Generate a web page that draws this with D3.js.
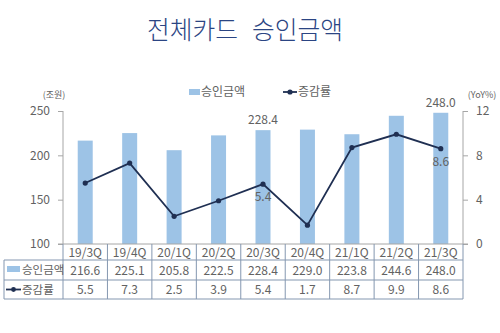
<!DOCTYPE html>
<html><head><meta charset="utf-8">
<script src="https://cdn.jsdelivr.net/npm/d3@7"></script>
<style>body{margin:0;background:#fff;}svg{display:block;font-family:"Noto Sans CJK KR","Noto Sans",sans-serif;}</style>
</head><body>
<script>
const categories = ["19/3Q","19/4Q","20/1Q","20/2Q","20/3Q","20/4Q","21/1Q","21/2Q","21/3Q"];
const amounts = [216.6,225.1,205.8,222.5,228.4,229.0,223.8,244.6,248.0];
const growth = [5.5,7.3,2.5,3.9,5.4,1.7,8.7,9.9,8.6];
const leftTicks = [100,150,200,250];
const rightTicks = [0,4,8,12];
const barLabelIdx = [4,8];
const lineLabelIdx = [4,8];
const titleWords = ["전체카드","승인금액"];

const W=500,H=333;
const svg=d3.select("body").append("svg").attr("width",W).attr("height",H);
const L=63,R=463,T=111,B=244;
const barColor="#9dc3e6", lineColor="#1f2f52", txt="#626262", grid="#8497b0";

const x=d3.scaleBand().domain(categories).range([L,R]).paddingInner(0).paddingOuter(0);
const yL=d3.scaleLinear().domain([100,250]).range([B,T]);
const yR=d3.scaleLinear().domain([0,12]).range([B,T]);

svg.append("text").attr("x",147).attr("y",39).attr("font-size",25).attr("font-weight",300)
  .attr("textLength",91).attr("lengthAdjust","spacingAndGlyphs").attr("fill","#2b4583").text(titleWords[0]);
svg.append("text").attr("x",252).attr("y",39).attr("font-size",25).attr("font-weight",300)
  .attr("textLength",91).attr("lengthAdjust","spacingAndGlyphs").attr("fill","#2b4583").text(titleWords[1]);

// bars
const bw=15;
svg.selectAll("rect.bar").data(amounts).join("rect")
  .attr("x",(d,i)=>x(categories[i])+x.bandwidth()/2-bw/2)
  .attr("y",d=>yL(d)).attr("width",bw).attr("height",d=>B-yL(d)).attr("fill",barColor);

// axes
const axL=d3.axisLeft(yL).tickValues(leftTicks).tickSize(5).tickPadding(8);
const gL=svg.append("g").attr("transform",`translate(${L},0)`).call(axL);
const axR=d3.axisRight(yR).tickValues(rightTicks).tickSize(5).tickPadding(8);
const gR=svg.append("g").attr("transform",`translate(${R},0)`).call(axR);
[gL,gR].forEach(g=>{
  g.select(".domain").remove();
  g.selectAll(".tick line").attr("stroke","#a6a6a6");
  g.selectAll(".tick text").attr("fill",txt).attr("font-size",12).attr("font-family","'Noto Sans CJK KR',sans-serif");
  g.append("line").attr("x1",0).attr("x2",0).attr("y1",T).attr("y2",B).attr("stroke","#a6a6a6");
});
svg.append("line").attr("x1",L-5).attr("x2",R+5).attr("y1",B).attr("y2",B).attr("stroke","#a6a6a6");

// line
const line=d3.line().x((d,i)=>x(categories[i])+x.bandwidth()/2).y(d=>yR(d));
svg.append("path").datum(growth).attr("d",line).attr("fill","none").attr("stroke",lineColor).attr("stroke-width",1.8);
svg.selectAll("circle.pt").data(growth).join("circle")
  .attr("cx",(d,i)=>x(categories[i])+x.bandwidth()/2).attr("cy",d=>yR(d)).attr("r",2.6).attr("fill",lineColor);

// labels
barLabelIdx.forEach(i=>{
  svg.append("text").attr("x",x(categories[i])+x.bandwidth()/2).attr("y",yL(amounts[i])-6)
    .attr("text-anchor","middle").attr("font-size",12).attr("fill",txt).text(amounts[i].toFixed(1));
});
lineLabelIdx.forEach(i=>{
  svg.append("text").attr("x",x(categories[i])+x.bandwidth()/2).attr("y",yR(growth[i])+17)
    .attr("text-anchor","middle").attr("font-size",12).attr("fill",txt).text(growth[i].toFixed(1));
});

// units
svg.append("text").attr("x",54).attr("y",98).attr("text-anchor","middle").attr("font-size",9).attr("fill",txt).text("(조원)");
svg.append("text").attr("x",482).attr("y",98).attr("text-anchor","middle").attr("font-size",9).attr("fill",txt).text("(YoY%)");

// legend
svg.append("rect").attr("x",189).attr("y",89).attr("width",11).attr("height",6).attr("fill",barColor);
svg.append("text").attr("x",201).attr("y",96).attr("font-size",12).attr("fill",txt).text("승인금액");
svg.append("line").attr("x1",283).attr("x2",297).attr("y1",92).attr("y2",92).attr("stroke",lineColor).attr("stroke-width",1.8);
svg.append("circle").attr("cx",290).attr("cy",92).attr("r",2.6).attr("fill",lineColor);
svg.append("text").attr("x",298).attr("y",96).attr("font-size",12).attr("fill",txt).text("증감률");

// table
const tL=4, r0=B, r1=260, r2=280, r3=299;
const tg=svg.append("g").attr("stroke",grid).attr("stroke-width",1);
[r1,r2,r3].forEach(ry=>tg.append("line").attr("x1",tL).attr("x2",R).attr("y1",ry).attr("y2",ry));
tg.append("line").attr("x1",tL).attr("x2",tL).attr("y1",r1).attr("y2",r3);
const bounds=categories.map(c=>x(c)).concat([R]);
bounds.forEach(bx=>tg.append("line").attr("x1",bx).attr("x2",bx).attr("y1",r0).attr("y2",r3));

categories.forEach((c,i)=>{
  const cx=x(c)+x.bandwidth()/2;
  svg.append("text").attr("x",cx).attr("y",(r0+r1)/2+4.5).attr("text-anchor","middle").attr("font-size",12).attr("fill",txt).text(c);
  svg.append("text").attr("x",cx).attr("y",(r1+r2)/2+4.5).attr("text-anchor","middle").attr("font-size",12).attr("fill",txt).text(amounts[i].toFixed(1));
  svg.append("text").attr("x",cx).attr("y",(r2+r3)/2+4.5).attr("text-anchor","middle").attr("font-size",12).attr("fill",txt).text(growth[i].toFixed(1));
});
svg.append("rect").attr("x",7).attr("y",266).attr("width",13).attr("height",6).attr("fill",barColor);
svg.append("text").attr("x",22).attr("y",274).attr("font-size",11.5).attr("fill",txt).text("승인금액");
svg.append("line").attr("x1",6).attr("x2",21).attr("y1",289.5).attr("y2",289.5).attr("stroke",lineColor).attr("stroke-width",1.8);
svg.append("circle").attr("cx",13.5).attr("cy",289.5).attr("r",2.4).attr("fill",lineColor);
svg.append("text").attr("x",22).attr("y",294).attr("font-size",11.5).attr("fill",txt).text("증감률");
</script>
</body></html>
